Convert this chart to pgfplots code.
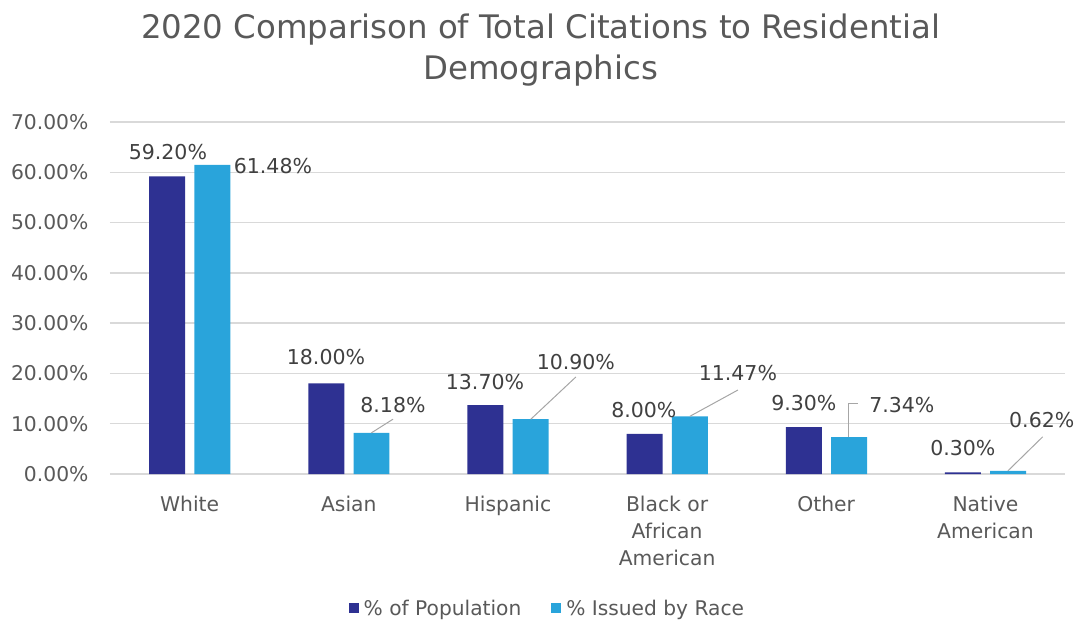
\documentclass[border=0pt]{standalone}
\usepackage{fontspec}
\setmainfont{DejaVu Sans}
\usepackage{pgfplots}
\pgfplotsset{compat=1.18}
\definecolor{navy}{HTML}{2E3192}
\definecolor{lblue}{HTML}{29A4DB}
\definecolor{txt}{HTML}{404040}
\definecolor{ticktxt}{HTML}{595959}
\definecolor{gridc}{HTML}{D9D9D9}
\definecolor{lead}{HTML}{A6A6A6}
\begin{document}
\begin{tikzpicture}
\begin{axis}[
  scale only axis, width=955pt, height=352pt,
  xmin=-0.5, xmax=5.5, ymin=0, ymax=70,
  clip=false,
  xtick={0,...,5},
  xticklabels={White,Asian,Hispanic,Black or\\African\\American,Other,Native\\American},
  xticklabel style={align=center, font=\fontsize{20.3}{27}\selectfont, text=ticktxt, yshift=-19pt},
  ytick={0,10,...,70},
  yticklabels={0.00\%,10.00\%,20.00\%,30.00\%,40.00\%,50.00\%,60.00\%,70.00\%},
  yticklabel style={font=\fontsize{20.3}{23}\selectfont, text=ticktxt, xshift=-18pt},
  ymajorgrids, grid style={gridc, line width=1.5pt},
  axis x line*=bottom, axis y line*=left,
  x axis line style={gridc, line width=1.5pt, -},
  y axis line style={draw=none},
  major tick length=0pt,
  legend style={at={(0.458,-0.381)}, anchor=center, draw=none, legend columns=2,
    font=\fontsize{20.2}{23}\selectfont, text=ticktxt,
    /tikz/every even column/.append style={column sep=28pt},
    /tikz/every odd column/.append style={column sep=0pt}},
]
\addplot[ybar, bar width=0.226, bar shift=-0.141, fill=navy, draw=none,
  legend image code/.code={\fill[navy] (0pt,-5pt) rectangle (10pt,5pt);}]
  coordinates {(0,59.20) (1,18.00) (2,13.70) (3,8.00) (4,9.30) (5,0.30)};
\addlegendentry{\hspace{3pt}\% of Population}
\addplot[ybar, bar width=0.226, bar shift=0.143, fill=lblue, draw=none,
  legend image code/.code={\fill[lblue] (0pt,-5pt) rectangle (10pt,5pt);}]
  coordinates {(0,61.48) (1,8.18) (2,10.90) (3,11.47) (4,7.34) (5,0.62)};
\addlegendentry{\hspace{3pt}\% Issued by Race}

% leader lines
\draw[lead, line width=1pt] (axis cs:1.142,8.18) -- (axis cs:1.278,10.9);
\draw[lead, line width=1pt] (axis cs:2.144,10.9) -- (axis cs:2.427,19.3);
\draw[lead, line width=1pt] (axis cs:3.143,11.47) -- (axis cs:3.445,16.7);
\draw[lead, line width=1pt] (axis cs:4.142,7.34) -- (axis cs:4.142,14.1) -- (axis cs:4.198,14.1);
\draw[lead, line width=1pt] (axis cs:5.141,0.62) -- (axis cs:5.36,7.4);

% data labels
\begin{scope}[every node/.style={font=\fontsize{20.5}{24}\selectfont, text=txt, inner sep=1pt}]
\node at (axis cs:-0.136,64.0) {59.20\%};
\node at (axis cs:0.524,61.2) {61.48\%};
\node at (axis cs:0.857,23.3) {18.00\%};
\node at (axis cs:1.278,13.7) {8.18\%};
\node at (axis cs:1.856,18.3) {13.70\%};
\node at (axis cs:2.427,22.3) {10.90\%};
\node at (axis cs:2.854,12.7) {8.00\%};
\node at (axis cs:3.445,20.1) {11.47\%};
\node at (axis cs:3.859,14.1) {9.30\%};
\node at (axis cs:4.475,13.7) {7.34\%};
\node at (axis cs:4.858,5.2) {0.30\%};
\node at (axis cs:5.354,10.7) {0.62\%};
\end{scope}

\node[align=center, font=\fontsize{32.4}{41}\selectfont, text=ticktxt] at (rel axis cs:0.451,1.205)
  {2020 Comparison of Total Citations to Residential\\Demographics};
\end{axis}
\pgfresetboundingbox
\path (current axis.south west) ++(-110pt,-148pt) rectangle ++(1078pt,622pt);
\end{tikzpicture}
\end{document}
